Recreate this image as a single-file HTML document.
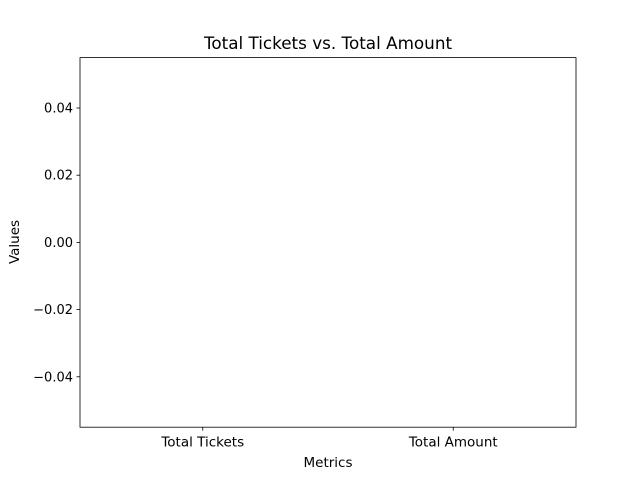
<!DOCTYPE html>
<html>
<head>
<meta charset="utf-8">
<style>
  body { margin: 0; background: #fff; }
  svg { display: block; font-family: "DejaVu Sans", "Liberation Sans", sans-serif; }
</style>
</head>
<body>
<svg id="chart" width="640" height="480" viewBox="0 0 640 480" xmlns="http://www.w3.org/2000/svg">
  <rect width="640" height="480" fill="#fff"/>
  <text x="328" y="49" text-anchor="middle" font-size="16.8">Total Tickets vs. Total Amount</text>
  <g id="bars"></g>
  <g id="yaxis"></g>
  <g id="xaxis"></g>
  <rect x="80" y="57.6" width="496" height="369.6" fill="none" stroke="#000" stroke-width="0.8"/>
  <text x="328" y="467" text-anchor="middle" font-size="13.5">Metrics</text>
  <text transform="translate(19,242) rotate(-90)" text-anchor="middle" font-size="13.5">Values</text>
</svg>
<script>
const categories = ["Total Tickets", "Total Amount"];
const values = [0, 0];
const yTicks = [-0.04, -0.02, 0.00, 0.02, 0.04];
const yTickLabels = ["\u22120.04", "\u22120.02", "0.00", "0.02", "0.04"];

const NS = "http://www.w3.org/2000/svg";
const L = 80, R = 576, T = 57.6, B = 427.2;
const yMin = -0.055, yMax = 0.055;
const xMin = -0.49, xMax = 1.49;
const yScale = v => B - (v - yMin) / (yMax - yMin) * (B - T);
const xScale = v => L + (v - xMin) / (xMax - xMin) * (R - L);

function mk(tag, attrs) {
  const e = document.createElementNS(NS, tag);
  for (const k in attrs) e.setAttribute(k, attrs[k]);
  return e;
}

const bars = document.getElementById("bars");
values.forEach((v, i) => {
  const x0 = xScale(i - 0.4), x1 = xScale(i + 0.4);
  const y0 = yScale(Math.max(v, 0)), y1 = yScale(Math.min(v, 0));
  const r = mk("rect", { x: x0, y: y0, width: x1 - x0, height: Math.max(0, y1 - y0), fill: "#1f77b4" });
  
  
  bars.appendChild(r);
});

const ya = document.getElementById("yaxis");
yTicks.forEach((t, i) => {
  const y = yScale(t);
  const ln = mk("line", { x1: L - 3.5, x2: L, y1: y, y2: y, stroke: "#000", "stroke-width": 0.8 });
  
  
  ya.appendChild(ln);
  const tx = mk("text", { x: L - 7, y: y + 4.5, "text-anchor": "end", "font-size": 13 });
  tx.textContent = yTickLabels[i];
  
  
  ya.appendChild(tx);
});

const xa = document.getElementById("xaxis");
categories.forEach((c, i) => {
  const x = xScale(i);
  const ln = mk("line", { x1: x, x2: x, y1: B, y2: B + 3.5, stroke: "#000", "stroke-width": 0.8 });
  
  
  xa.appendChild(ln);
  const tx = mk("text", { x: x, y: B + 19.5, "text-anchor": "middle", "font-size": 13.5 });
  tx.textContent = c;
  
  
  xa.appendChild(tx);
});
</script>
</body>
</html>
